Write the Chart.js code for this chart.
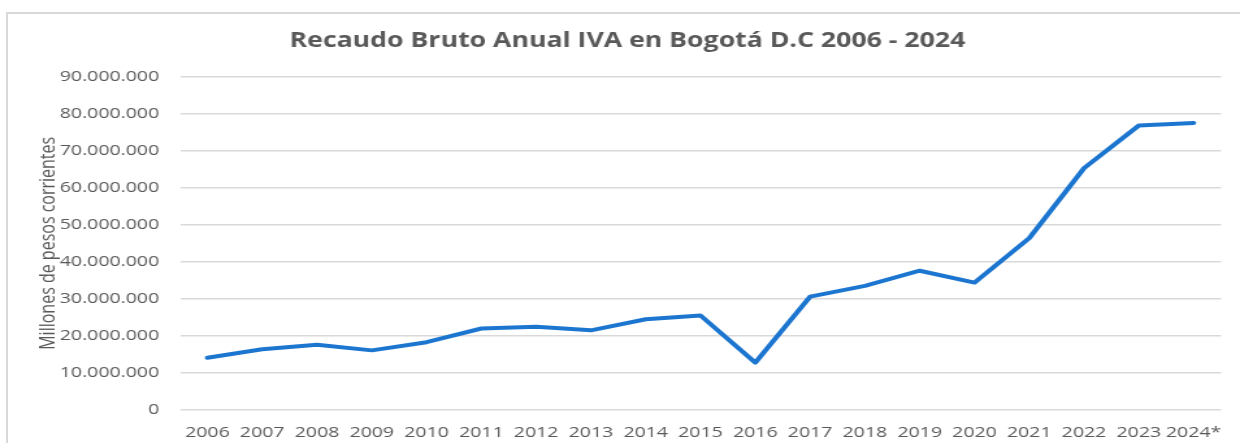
<!DOCTYPE html>
<html>
<head>
<meta charset="utf-8">
<script src="https://cdn.jsdelivr.net/npm/chart.js@4.4.0/dist/chart.umd.min.js"></script>
<style>
  html, body { margin: 0; padding: 0; background: #fff; overflow: hidden; width: 1240px; height: 443px; }
  #frame { position: absolute; left: 6px; top: 12px; width: 1300px; height: 500px; border: 2px solid #d9d9d9; box-sizing: border-box; }
  /* the original picture is stretched sideways, so the chart is drawn narrower and widened */
  #holder { position: absolute; left: 0; top: 0; transform: scaleX(1.2998); transform-origin: 0 0; }
</style>
</head>
<body>
<div id="frame"></div>
<div id="holder"><canvas id="chart" width="954" height="443"></canvas></div>
<script>
const years = ['2006', '2007', '2008', '2009', '2010', '2011', '2012', '2013', '2014', '2015',
               '2016', '2017', '2018', '2019', '2020', '2021', '2022', '2023', '2024*'];
// recaudo bruto IVA, millones de pesos corrientes
const recaudo = [14100000, 16400000, 17600000, 16100000, 18300000, 22000000, 22500000, 21500000, 24500000, 25500000,
                 12800000, 30600000, 33500000, 37600000, 34400000, 46400000, 65300000, 76800000, 77500000];
const yMax = 90000000;
const yStep = 10000000;

const textColor = '#595959';
const gridColor = '#d9d9d9';

function formatMiles(v) {
    return String(v).replace(/\B(?=(\d{3})+(?!\d))/g, '.');
}

const ctx = document.getElementById('chart').getContext('2d');
const chart = new Chart(ctx, {
    type: 'line',
    data: {
        labels: years,
        datasets: [{
            label: 'Recaudo Bruto IVA',
            data: recaudo,
            borderColor: '#1c76d0',
            borderWidth: 4,
            borderCapStyle: 'round',
            borderJoinStyle: 'round',
            pointRadius: 0,
            tension: 0,
            fill: false
        }]
    },
    options: {
        responsive: false,
        animation: false,
        layout: { padding: { left: 26, right: 14.6, top: 0, bottom: 0 } },
        plugins: {
            legend: { display: false },
            tooltip: { enabled: false },
            title: {
                display: true,
                text: 'Recaudo Bruto Anual IVA en Bogotá D.C 2006 - 2024',
                color: textColor,
                font: { family: 'Open Sans', size: 20.5, weight: 'bold' },
                padding: { top: 29, bottom: 23 }
            }
        },
        scales: {
            x: {
                offset: true,
                grid: { display: false },
                border: { display: false },
                ticks: {
                    color: textColor,
                    font: { family: 'Open Sans', size: 15 },
                    padding: 6,
                    maxRotation: 0,
                    autoSkip: false
                },
                afterFit: function(scale) { scale.height = 33; }
            },
            y: {
                min: 0,
                max: yMax,
                grid: { color: gridColor, lineWidth: 1.5, drawTicks: false },
                border: { display: false },
                ticks: {
                    stepSize: yStep,
                    color: textColor,
                    font: { family: 'Open Sans', size: 15 },
                    padding: 16,
                    callback: function(v) { return formatMiles(v); }
                },
                title: {
                    display: true,
                    text: 'Millones de pesos corrientes',
                    color: textColor,
                    font: { family: 'Open Sans', size: 16 },
                    padding: { top: 2, bottom: 0 }
                },
                afterFit: function(scale) { scale.width = 112.5; }
            }
        }
    }
});
</script>
</body>
</html>
